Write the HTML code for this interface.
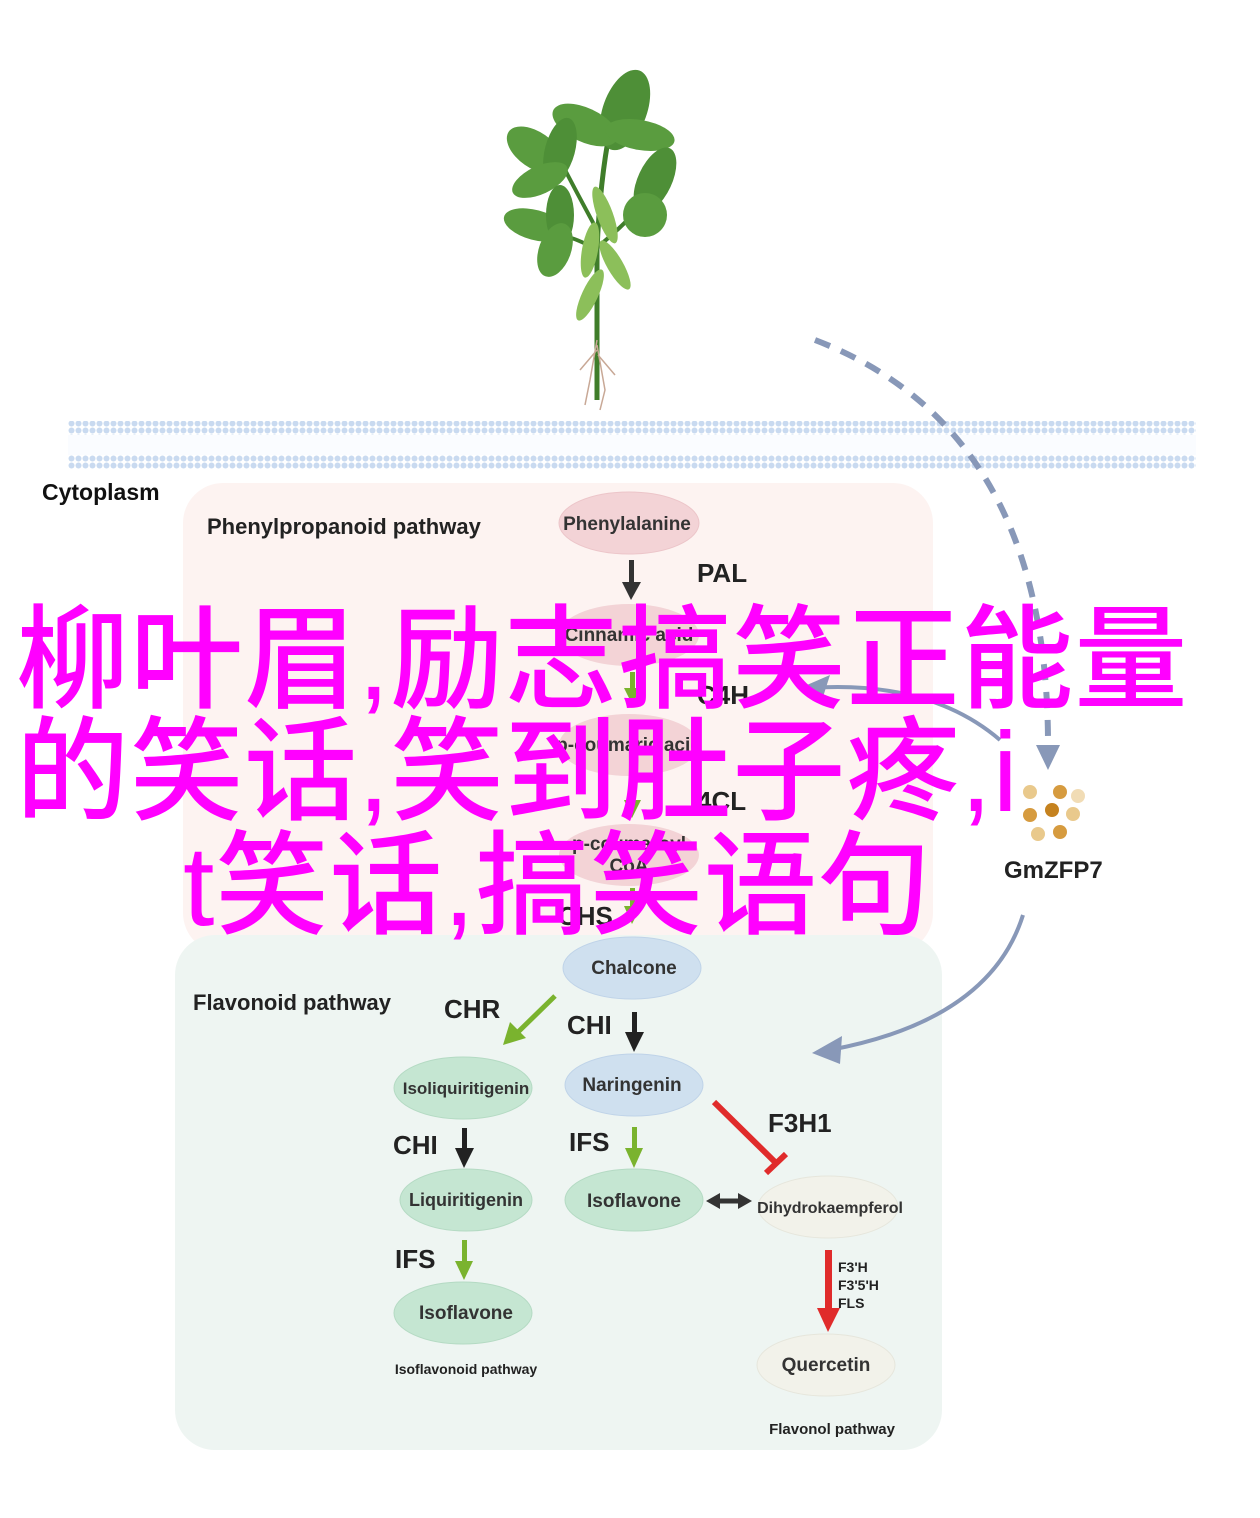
<!DOCTYPE html>
<html><head><meta charset="utf-8"><style>
html,body{margin:0;padding:0;background:#fff;width:1260px;height:1518px;overflow:hidden;position:relative}
svg{position:absolute;left:0;top:0}
.ov{position:absolute;color:#ff00ff;font-family:"Liberation Sans","Noto Sans CJK SC",sans-serif;font-weight:500;font-size:113px;line-height:112px;white-space:nowrap}
</style></head><body>
<svg width="1260" height="1518" viewBox="0 0 1260 1518" font-family="Liberation Sans, sans-serif">
<defs>
<pattern id="dots" x="68" y="0" width="7" height="7" patternUnits="userSpaceOnUse"><circle cx="3.5" cy="3.5" r="3" fill="#c9daf0"/></pattern>
</defs>
<!-- membrane -->
<rect x="68" y="421" width="1128" height="14" fill="url(#dots)"/>
<rect x="68" y="455" width="1128" height="14" fill="url(#dots)"/>
<rect x="68" y="435" width="1128" height="20" fill="#fafcff"/>
<text x="42" y="500" font-size="23" font-weight="bold" fill="#111">Cytoplasm</text>
<!-- boxes -->
<rect x="183" y="483" width="750" height="470" rx="40" fill="#fdf3f1"/>
<rect x="175" y="935" width="767" height="515" rx="40" fill="#eef5f2"/>
<text x="207" y="534" font-size="22" font-weight="bold" fill="#222">Phenylpropanoid pathway</text>
<text x="193" y="1010" font-size="22" font-weight="bold" fill="#222">Flavonoid pathway</text>
<!-- plant -->
<g>
<path d="M597 400 L597 250 Q600 180 610 130" stroke="#3f7d2a" stroke-width="5" fill="none"/>
<path d="M597 230 Q570 180 560 160" stroke="#3f7d2a" stroke-width="4" fill="none"/>
<path d="M598 250 Q560 230 560 240" stroke="#3f7d2a" stroke-width="4" fill="none"/>
<path d="M600 245 Q630 220 645 200" stroke="#3f7d2a" stroke-width="4" fill="none"/>
<ellipse cx="625" cy="110" rx="22" ry="42" fill="#4e8f37" transform="rotate(20 625 110)"/>
<ellipse cx="585" cy="125" rx="35" ry="17" fill="#5a9c3f" transform="rotate(25 585 125)"/>
<ellipse cx="640" cy="135" rx="35" ry="15" fill="#5a9c3f" transform="rotate(10 640 135)"/>
<ellipse cx="535" cy="150" rx="32" ry="18" fill="#5a9c3f" transform="rotate(35 535 150)"/>
<ellipse cx="560" cy="150" rx="15" ry="33" fill="#4e8f37" transform="rotate(15 560 150)"/>
<ellipse cx="540" cy="180" rx="30" ry="14" fill="#5a9c3f" transform="rotate(-25 540 180)"/>
<ellipse cx="655" cy="180" rx="17" ry="35" fill="#4e8f37" transform="rotate(25 655 180)"/>
<ellipse cx="645" cy="215" rx="22" ry="22" fill="#5a9c3f"/>
<ellipse cx="535" cy="225" rx="32" ry="15" fill="#5a9c3f" transform="rotate(15 535 225)"/>
<ellipse cx="560" cy="215" rx="14" ry="30" fill="#4e8f37"/>
<ellipse cx="555" cy="250" rx="16" ry="28" fill="#5a9c3f" transform="rotate(20 555 250)"/>
<ellipse cx="605" cy="215" rx="8" ry="30" fill="#8cbf5a" transform="rotate(-20 605 215)"/>
<ellipse cx="590" cy="250" rx="8" ry="28" fill="#8cbf5a" transform="rotate(10 590 250)"/>
<ellipse cx="615" cy="265" rx="8" ry="28" fill="#8cbf5a" transform="rotate(-30 615 265)"/>
<ellipse cx="590" cy="295" rx="8" ry="28" fill="#8cbf5a" transform="rotate(25 590 295)"/>
<path d="M597 340 L590 380 L585 405 M597 345 L605 390 L600 410 M597 350 L580 370 M598 355 L615 375" stroke="#c8a896" stroke-width="1.5" fill="none"/>
</g>
<!-- dashed arrow -->
<path d="M815 340 Q1050 430 1048 750" stroke="#8898b8" stroke-width="6" stroke-dasharray="16,12" fill="none"/>
<polygon points="1036,745 1060,745 1048,770" fill="#8898b8"/>
<!-- GmZFP7 -->
<g>
<circle cx="1030" cy="792" r="7" fill="#e9c98c"/><circle cx="1060" cy="792" r="7" fill="#d69b3f"/><circle cx="1078" cy="796" r="7" fill="#f1dcb5"/>
<circle cx="1030" cy="815" r="7" fill="#d69b3f"/><circle cx="1052" cy="810" r="7" fill="#c5821f"/><circle cx="1073" cy="814" r="7" fill="#e9c98c"/>
<circle cx="1038" cy="834" r="7" fill="#e9c98c"/><circle cx="1060" cy="832" r="7" fill="#d69b3f"/>
</g>
<text x="1004" y="878" font-size="24" font-weight="bold" fill="#222">GmZFP7</text>
<path d="M1000 740 Q930 680 810 688" stroke="#8898b8" stroke-width="4" fill="none"/>
<polygon points="800,688 830,675 822,700" fill="#8898b8"/>
<path d="M1023 915 Q990 1020 830 1050" stroke="#8898b8" stroke-width="4" fill="none"/>
<polygon points="812,1053 842,1036 840,1064" fill="#8898b8"/>
<!-- ellipses -->
<g font-size="19" text-anchor="middle" fill="#333" font-weight="bold">
<ellipse cx="629" cy="523" rx="70" ry="31" fill="#f3d3d6" stroke="#ecc5c9"/><text x="627" y="530">Phenylalanine</text>
<ellipse cx="629" cy="635" rx="70" ry="31" fill="#f3d3d6"/><text x="629" y="641">Cinnamic acid</text>
<ellipse cx="629" cy="745" rx="70" ry="31" fill="#f3d3d6"/><text x="629" y="751">p-coumaric acid</text>
<ellipse cx="629" cy="855" rx="70" ry="31" fill="#f3d3d6"/><text x="629" y="850">p-coumaroyl</text><text x="629" y="872">CoA</text>
<ellipse cx="632" cy="968" rx="69" ry="31" fill="#cfe0ef" stroke="#bfd3e8"/><text x="634" y="974">Chalcone</text>
<ellipse cx="634" cy="1085" rx="69" ry="31" fill="#cfe0ef" stroke="#bfd3e8"/><text x="632" y="1091">Naringenin</text>
<ellipse cx="463" cy="1088" rx="69" ry="31" fill="#c5e6d2" stroke="#b4dac3"/><text x="466" y="1094" font-size="17">Isoliquiritigenin</text>
<ellipse cx="466" cy="1200" rx="66" ry="31" fill="#c5e6d2" stroke="#b4dac3"/><text x="466" y="1206" font-size="18">Liquiritigenin</text>
<ellipse cx="463" cy="1313" rx="69" ry="31" fill="#c5e6d2" stroke="#b4dac3"/><text x="466" y="1319">Isoflavone</text>
<ellipse cx="634" cy="1200" rx="69" ry="31" fill="#c5e6d2" stroke="#b4dac3"/><text x="634" y="1207">Isoflavone</text>
<ellipse cx="828" cy="1207" rx="70" ry="31" fill="#f2f2ea" stroke="#e6e6dc"/><text x="830" y="1213" font-size="16">Dihydrokaempferol</text>
<ellipse cx="826" cy="1365" rx="69" ry="31" fill="#f2f2ea" stroke="#e6e6dc"/><text x="826" y="1371">Quercetin</text>
</g>
<!-- arrows -->
<g>
<rect x="629" y="560" width="5" height="25" fill="#333"/><polygon points="622,582 641,582 631,600" fill="#333"/>
<rect x="630" y="672" width="5" height="20" fill="#7ab32e"/><polygon points="624,688 641,688 632,704" fill="#7ab32e"/>
<rect x="630" y="782" width="5" height="20" fill="#7ab32e"/><polygon points="624,800 641,800 632,818" fill="#7ab32e"/>
<rect x="630" y="888" width="5" height="20" fill="#7ab32e"/><polygon points="624,906 641,906 632,924" fill="#7ab32e"/>
<rect x="632" y="1012" width="5" height="24" fill="#222"/><polygon points="625,1032 644,1032 634,1052" fill="#222"/>
<line x1="555" y1="996" x2="515" y2="1035" stroke="#7ab32e" stroke-width="5"/><polygon points="503,1045 510,1022 526,1038" fill="#7ab32e"/>
<rect x="462" y="1128" width="5" height="24" fill="#222"/><polygon points="455,1148 474,1148 464,1168" fill="#222"/>
<rect x="632" y="1127" width="5" height="24" fill="#7ab32e"/><polygon points="625,1148 643,1148 634,1168" fill="#7ab32e"/>
<rect x="462" y="1240" width="5" height="24" fill="#7ab32e"/><polygon points="455,1261 473,1261 464,1280" fill="#7ab32e"/>
<line x1="714" y1="1102" x2="776" y2="1163" stroke="#e02b2b" stroke-width="6"/><line x1="766" y1="1173" x2="786" y2="1154" stroke="#e02b2b" stroke-width="6"/>
<line x1="718" y1="1201" x2="744" y2="1201" stroke="#333" stroke-width="5"/>
<polygon points="706,1201 720,1193 720,1209" fill="#333"/><polygon points="752,1201 738,1193 738,1209" fill="#333"/>
<rect x="825" y="1250" width="7" height="62" fill="#e02b2b"/><polygon points="817,1308 840,1308 828,1332" fill="#e02b2b"/>
</g>
<!-- labels -->
<g font-weight="bold" fill="#222">
<text x="697" y="582" font-size="26">PAL</text>
<text x="697" y="704" font-size="26">C4H</text>
<text x="697" y="810" font-size="26">4CL</text>
<text x="558" y="925" font-size="26">CHS</text>
<text x="444" y="1018" font-size="26">CHR</text>
<text x="567" y="1034" font-size="26">CHI</text>
<text x="393" y="1154" font-size="26">CHI</text>
<text x="569" y="1151" font-size="26">IFS</text>
<text x="395" y="1268" font-size="26">IFS</text>
<text x="768" y="1132" font-size="26">F3H1</text>
<text x="838" y="1272" font-size="14">F3'H</text>
<text x="838" y="1290" font-size="14">F3'5'H</text>
<text x="838" y="1308" font-size="14">FLS</text>
<text x="466" y="1374" font-size="14" text-anchor="middle">Isoflavonoid pathway</text>
<text x="832" y="1434" font-size="15" text-anchor="middle">Flavonol pathway</text>
</g>
</svg>
<div class="ov" style="top:604px;left:16px;letter-spacing:1px">柳叶眉,励志搞笑正能量</div>
<div class="ov" style="top:716px;left:16px;letter-spacing:1px">的笑话,笑到肚子疼,i</div>
<div class="ov" style="top:830px;left:183px;letter-spacing:1px">t笑话,搞笑语句</div>
</body></html>
